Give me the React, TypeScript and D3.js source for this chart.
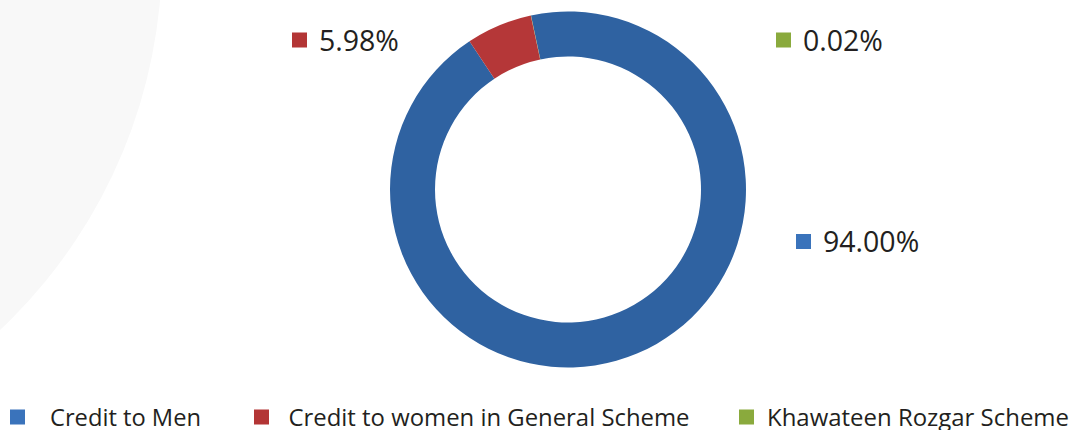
import React from "react";
import * as d3 from "d3";

const categories = ["Credit to Men", "Credit to women in General Scheme", "Khawateen Rozgar Scheme"];
const shares = [94.0, 5.98, 0.02];
const shareLabels = ["94.00%", "5.98%", "0.02%"];
const sliceColors = ["#2F62A1", "#B53738", "#8AAA3D"];
const keyColors = ["#3A73BB", "#B33535", "#8AAA3D"];

const W = 1075;
const H = 430;
const cx = 568;
const cy = 189.5;
const outerR = 178;
const innerR = 133;
const startDeg = -12;

// label layout (square x, text baseline) per category
const labelPos = [
  { x: 796, y: 252 },
  { x: 292, y: 50.5 },
  { x: 776, y: 50.5 },
];
const legendSquareX = [10, 254, 739];
const legendTextX = [50, 288.5, 767];
const legendTextW = [151, 401, 302];
const legendY = 425.5;
const font = "'Open Sans', 'Noto Sans', sans-serif";
const textColor = "#231F20";

export default function App() {
  const pie = d3
    .pie<number>()
    .sort(null)
    .value((d) => d)
    .startAngle((startDeg * Math.PI) / 180)
    .endAngle((startDeg * Math.PI) / 180 + 2 * Math.PI);
  const arcs = pie(shares);
  const arc = d3.arc<d3.PieArcDatum<number>>().innerRadius(innerR).outerRadius(outerR);

  return (
    <svg
      width={W}
      height={H}
      style={{ position: "absolute", left: 0, top: 0, background: "#fff" }}
      fontFamily={font}
    >
      <rect x={0} y={0} width={W} height={H} fill="#ffffff" />
      <circle cx={-353} cy={-45} r={515} fill="#F8F8F8" />
      <g transform={`translate(${cx},${cy})`}>
        {arcs.map((a, i) => (
          <path key={i} d={arc(a) || ""} fill={sliceColors[i]} />
        ))}
      </g>
      {shareLabels.map((t, i) => (
        <g key={i}>
          <rect x={labelPos[i].x} y={labelPos[i].y - 18} width={15} height={15} fill={keyColors[i]} />
          <text x={labelPos[i].x + 27} y={labelPos[i].y} fontSize={28.5} fill={textColor}>
            {t}
          </text>
        </g>
      ))}
      {categories.map((c, i) => (
        <g key={c}>
          <rect x={legendSquareX[i]} y={legendY - 16} width={15} height={15} fill={keyColors[i]} />
          <text
            x={legendTextX[i]}
            y={legendY}
            fontSize={24}
            fill={textColor}
            textLength={legendTextW[i]}
            lengthAdjust="spacingAndGlyphs"
          >
            {c}
          </text>
        </g>
      ))}
    </svg>
  );
}
